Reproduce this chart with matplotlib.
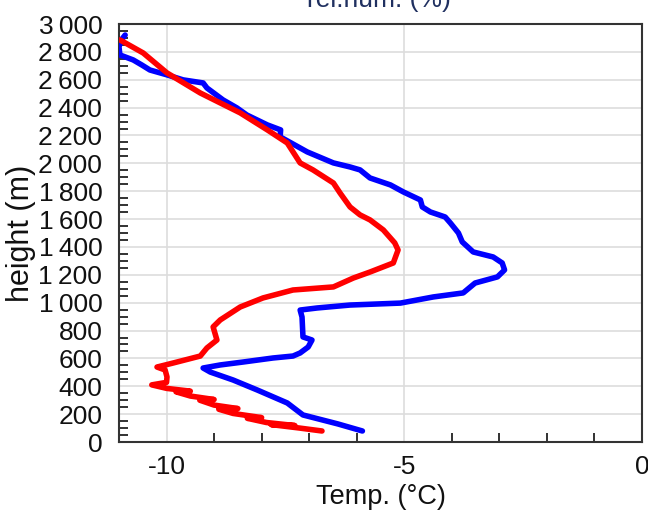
import numpy as np
import matplotlib.pyplot as plt
from matplotlib.ticker import FixedLocator

plt.rcParams['font.family'] = ['Liberation Sans', 'DejaVu Sans']
plt.rcParams['axes.unicode_minus'] = False

# temperature profile (deg C vs height in m)
blue_temp = [-5.88, -6.4, -7.13, -7.46, -8.09, -8.6, -9.08, -9.23, -8.87, -8.39,
             -7.76, -7.34, -7.19, -7.02, -6.94, -7.13, -7.15, -7.19, -6.83, -6.14,
             -5.08, -4.39, -3.76, -3.51, -3.04, -2.89, -2.94, -3.13, -3.55, -3.78,
             -3.86, -4.03, -4.14, -4.45, -4.62, -4.66, -5.02, -5.29, -5.72, -5.93,
             -6.14, -6.49, -7.04, -7.61, -7.6, -7.88, -8.31, -8.52, -8.81, -9.15,
             -9.23, -9.65, -9.99, -10.35, -10.52, -10.7, -10.98, -11.0, -10.95, -10.87]
blue_height = [79, 130, 194, 280, 373, 445, 502, 531, 553, 574,
               603, 617, 639, 682, 732, 754, 897, 947, 962, 983,
               997, 1041, 1070, 1141, 1185, 1235, 1285, 1328, 1364, 1436,
               1500, 1572, 1615, 1651, 1687, 1737, 1795, 1845, 1895, 1953,
               1974, 2003, 2082, 2190, 2240, 2276, 2347, 2398, 2455, 2541,
               2577, 2599, 2635, 2670, 2706, 2742, 2778, 2836, 2886, 2921]

red_temp = [-6.73, -7.2, -7.8, -7.3, -7.9, -8.3, -8.0, -8.6, -8.9, -8.5,
            -9.0, -9.3, -9.0, -9.5, -9.8, -9.5, -10.0, -10.31, -10.0, -9.99,
            -10.03, -10.2, -9.86, -9.29, -9.15, -8.94, -9.02, -8.87, -8.45, -7.97,
            -7.34, -6.49, -6.07, -5.72, -5.23, -5.13, -5.2, -5.44, -5.72, -5.93,
            -6.14, -6.35, -6.49, -6.92, -7.19, -7.46, -7.88, -8.45, -9.29, -9.99,
            -10.49, -10.98]
red_height = [79, 100, 125, 118, 140, 170, 175, 205, 235, 240,
              265, 300, 305, 330, 360, 365, 385, 410, 428, 467,
              517, 538, 567, 617, 675, 732, 826, 876, 969, 1034,
              1091, 1113, 1177, 1220, 1285, 1378, 1429, 1522, 1594, 1630,
              1687, 1787, 1859, 1953, 2003, 2146, 2240, 2362, 2505, 2649,
              2792, 2886]

y_ticks = list(range(0, 3001, 200))
y_labels = [f'{v // 1000}\u2009{v % 1000:03d}' if v >= 1000 else str(v) for v in y_ticks]
x_ticks = [-10, -5, 0]
x_labels = ['-10', '-5', '0']

fig = plt.figure(figsize=(6.48, 5.13), dpi=100)
ax = fig.add_axes([0.1836, 0.1384, 0.8071, 0.8148])

ax.plot(blue_temp, blue_height, color='#0000ff', lw=4, solid_capstyle='round',
        solid_joinstyle='round', zorder=3)
ax.plot(red_temp, red_height, color='#ff0000', lw=4, solid_capstyle='round',
        solid_joinstyle='round', zorder=4)

ax.set_xlim(-11, 0)
ax.set_ylim(0, 3000)

ax.set_xticks(x_ticks)
ax.set_xticklabels(x_labels)
ax.set_yticks(y_ticks)
ax.set_yticklabels(y_labels)
ax.xaxis.set_minor_locator(FixedLocator([v for v in range(-11, 1) if v % 5 != 0]))
ax.yaxis.set_minor_locator(FixedLocator([v for v in range(0, 3001, 50) if v % 200 != 0]))

ax.tick_params(which='major', length=0, labelsize=19, colors='#111111')
ax.tick_params(axis='y', which='major', pad=12)
ax.tick_params(axis='x', which='major', pad=9)
ax.tick_params(which='minor', direction='in', length=6.5, width=1.3, color='#222222')

ax.grid(True, which='major', color='#dddddd', lw=1.2, zorder=0)
ax.set_axisbelow(True)
for sp in ax.spines.values():
    sp.set_color('#333333')
    sp.set_linewidth(1.5)

ax.set_xlabel('Temp. (°C)', fontsize=19.5, color='#111111')
ax.set_ylabel('height (m)', fontsize=22, color='#111111')
ax.xaxis.set_label_coords(0.5, -0.1)
ax.yaxis.set_label_coords(-0.158, 0.5)

# top axis label, partly cut off at the figure edge
fig.text(0.585, 1 - 7 / 513, 'rel.hum. (%)', fontsize=19, color='#203060',
         ha='center', va='baseline')

fig.savefig('out.png', dpi=100)
